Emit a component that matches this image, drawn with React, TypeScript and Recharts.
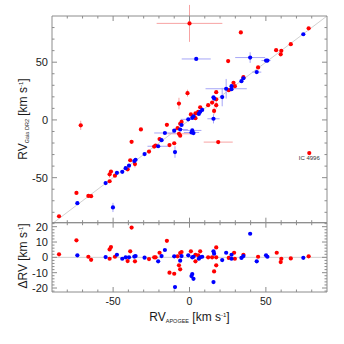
import React from "react";
import {
  ScatterChart,
  Scatter,
  XAxis,
  YAxis,
  ErrorBar,
  ReferenceLine,
  ReferenceDot,
} from "recharts";

// [RV_APOGEE, RV_Gaia, err_APOGEE, err_Gaia]
type Row = [number, number, number, number];

const redTop: Row[] = [
  [0, 83.6, 21.5, 16],
  [33.6, 75.8, 0, 0],
  [78, 79.3, 0, 0],
  [66.3, 65.6, 0, 0],
  [56.7, 60.4, 0, 0],
  [60.1, 59.8, 0, 0],
  [59.7, 56.8, 0, 0],
  [25.3, 51, 0, 1.5],
  [44.9, 45.5, 0, 0],
  [35.3, 37, 0, 0],
  [28.8, 32.2, 0, 0],
  [29.7, 29.2, 0, 0],
  [25.7, 25.8, 0, 0],
  [17.5, 24, 0, 0],
  [17.5, 17.8, 0, 0],
  [14.8, 15, 0, 0],
  [12.2, 12.8, 0, 0],
  [17.5, 12.8, 0, 3],
  [16.1, 7.8, 0, 3],
  [-1.3, 23.2, 0, 3],
  [-6.9, 14.2, 0, 5],
  [7, 11, 0, 0],
  [5.7, 7, 0, 0],
  [3.9, 5.6, 0, 0],
  [3.9, 1.5, 0, 0],
  [0.9, 4.8, 0, 0],
  [-5.2, -1.7, 0, 0],
  [-6.1, -3.3, 0, 0],
  [-7.8, -7.1, 0, 0],
  [-6.9, -12, 7.5, 0],
  [-6.1, -13.6, 0, 0],
  [-10, -20.2, 0, 0],
  [-13.1, -21.8, 0, 0],
  [-14.8, -4.2, 0, 0],
  [-19.6, -16.6, 0, 0],
  [-22.2, -22.2, 0, 0],
  [-23.1, -23.1, 0, 0],
  [-26.5, -27.4, 0, 0],
  [-31.8, -8.2, 0, 0],
  [-37.9, -19, 0, 0],
  [-35.7, -38.2, 0, 3],
  [-38.8, -34.9, 0, 0],
  [-40.5, -42.8, 0, 0],
  [-48.8, -48.3, 0, 0],
  [-52.3, -53.1, 0, 0],
  [-52.3, -47.1, 0, 3],
  [-51.4, -44.7, 0, 0],
  [-64.4, -66, 0, 0],
  [-66.2, -65.8, 0, 0],
  [-74, -63.2, 0, 0],
  [-85.4, -83.4, 0, 0],
  [-71.2, -4.7, 0, 4],
  [18.8, -19.2, 9.5, 0],
  [78.4, -28.7, 0, 0],
];

const blueTop: Row[] = [
  [74.5, 74.2, 0, 0],
  [4.4, 52.8, 9.5, 0],
  [39.7, 54, 9.8, 4.6],
  [50.1, 51.4, 3, 0],
  [51, 51.4, 0, 0],
  [44, 41.4, 3, 0],
  [34, 33.6, 0, 0],
  [35.3, 36.1, 0, 0],
  [27.5, 29.2, 0, 0],
  [27.5, 26.6, 0, 0],
  [24, 27, 13.5, 8.5],
  [15.7, 19.6, 0, 0],
  [16.1, 18.5, 0, 0],
  [21.4, 19.8, 0, 8],
  [15.7, 1, 4, 4],
  [-0.8, 0.5, 5, 0],
  [1.8, 1.8, 0, 0],
  [2.6, 3, 0, 0],
  [6.1, 5.2, 0, 0],
  [7, 7, 0, 0],
  [8.3, 8.7, 0, 0],
  [1.8, -9.1, 6, 0],
  [1.3, -10.9, 5, 0],
  [2.6, -11.4, 0, 0],
  [-5.2, -4.4, 0, 0],
  [-6.1, -8.3, 5, 0],
  [-10, -9.3, 0, 0],
  [-16.1, -11.3, 7, 0],
  [-18.3, -17.5, 0, 0],
  [-20.5, -22.8, 7, 0],
  [-9.5, -27.8, 0, 5],
  [-29.4, -29.6, 0, 0],
  [-35.3, -34.5, 0, 0],
  [-36.1, -35.6, 0, 0],
  [-39.6, -39.6, 0, 0],
  [-41.8, -41.8, 0, 0],
  [-44, -44.9, 0, 0],
  [-47.5, -45.8, 0, 0],
  [-54.9, -54.7, 0, 0],
  [-73.4, -72.1, 0, 0],
  [-50.1, -75.8, 0, 4],
];

// [RV_APOGEE, ΔRV]
const redDelta: [number, number][] = [
  [-85.4, 2], [-74, 11.1], [-66.2, 0.4], [-64.4, -1.6], [-52.3, -0.9],
  [-52.3, 5.2], [-51.4, 6.7], [-48.8, 0.4], [-38.8, 3.9], [-37.9, 19.4],
  [-40.5, -2.4], [-35.7, -2.6], [-26.5, -1.1], [-23.1, 0], [-22.2, 0],
  [-19.6, 3], [-14.8, 10.8], [-13.1, -10], [-10, -10.7], [-7.8, 0.7],
  [-6.9, -5.2], [-6.1, -7.8], [-6.1, 2.8], [-5.2, 3.5], [0.9, 3.9],
  [3.9, 1.7], [3.9, -2.6], [5.7, 1.3], [7, 3.9], [12.2, 0], [14.8, 0],
  [16.1, -9.2], [17.5, -5.2], [17.5, 6.5], [17.5, 0], [25.7, -0.4],
  [29.2, 3], [29.7, -0.9], [35.3, 1.7], [44.9, 0.4], [57.1, 3],
  [59.7, -3.1], [60.1, -0.9], [66.3, -0.7], [78, 0.7],
];

const blueDelta: [number, number][] = [
  [-73.4, 1.3], [-54.9, 0.2], [-47.5, 1.7], [-44, -0.9], [-41.8, 0],
  [-39.6, 0], [-35.3, 0.8], [-36.1, 0.5], [-29.4, -0.2], [-20.5, -2.6],
  [-18.3, 0.8], [-16.1, 4.8], [-10, 0.7], [-9.5, -19.4], [-6.1, -2.2],
  [-5.2, 0.8], [-0.8, 1.3], [1.8, 0], [2.6, 0.4], [1.8, -10.9],
  [1.3, -12.2], [2.6, -14], [6.1, -0.9], [7, 0], [8.3, 0.4], [15.7, 3.9],
  [16.1, 2.4], [15.7, -16.1], [21.4, -1.8], [24, 3], [27.5, 1.7],
  [27.5, -0.9], [34, -0.4], [35.3, 0.8], [39.7, 15.4], [44, -2.6],
  [50.1, 1.3], [51, 0.4], [74.5, -0.3],
];

const rvTicks = [-80, -70, -60, -50, -40, -30, -20, -10, 0, 10, 20, 30, 40, 50, 60, 70, 80];
const rvMajor = [-50, 0, 50];
const deltaTicks = [-22, -20, -18, -16, -14, -12, -10, -8, -6, -4, -2, 0, 2, 4, 6, 8, 10, 12, 14, 16, 18, 20, 22];
const deltaMajor = [-20, -10, 0, 10, 20];

const AXIS_COLOR = "#8c8c8c";
const TEXT_COLOR = "#1a1a1a";
const FONT = "'Liberation Sans', Arial, sans-serif";
const RED = "#ff0000";
const BLUE = "#0000ff";

const toTop = (rows: Row[]) => rows.map(([x, y, ex, ey]) => ({ x, y, ex, ey }));
const toDelta = (rows: [number, number][]) => rows.map(([x, y]) => ({ x, y }));

type Side = "left" | "right" | "top" | "bottom";

// inward ticks, labels outside (IDL style)
function makeTick(side: Side, majors: number[], showText: boolean) {
  return (props: any) => {
    const { x, y, payload } = props;
    const v = payload.value;
    const isMajor = majors.includes(v);
    const len = isMajor ? 5 : 2.5;
    let x2 = x;
    let y2 = y;
    if (side === "left") x2 = x + len;
    if (side === "right") x2 = x - len;
    if (side === "top") y2 = y + len;
    if (side === "bottom") y2 = y - len;
    return (
      <g>
        <line x1={x} y1={y} x2={x2} y2={y2} stroke={AXIS_COLOR} strokeWidth={1} />
        {showText && isMajor && side === "left" && (
          <text x={x - 4} y={y} textAnchor="end" dominantBaseline="central" fontSize={11} fontFamily={FONT} fill={TEXT_COLOR}>
            {v}
          </text>
        )}
        {showText && isMajor && side === "bottom" && (
          <text x={x} y={y + 5.5} dy="0.71em" textAnchor="middle" fontSize={10.5} fontFamily={FONT} fill={TEXT_COLOR}>
            {v}
          </text>
        )}
      </g>
    );
  };
}

const dot = (color: string) => (p: any) => <circle cx={p.cx} cy={p.cy} r={2.1} fill={color} />;

const gaiaTitle = () => (
  <text transform="rotate(-90, 27, 119)" x={27} y={119} textAnchor="middle" fontSize={12} fontFamily={FONT} fill={TEXT_COLOR}>
    RV<tspan fontSize={5.5} dy={2}>Gaia DR2</tspan>
    <tspan fontSize={12} dy={-2}> [km s</tspan>
    <tspan fontSize={6} dy={-4}>-1</tspan>
    <tspan fontSize={12} dy={4}>]</tspan>
  </text>
);

const deltaTitle = () => (
  <text transform="rotate(-90, 27, 256)" x={27} y={256} textAnchor="middle" fontSize={12} fontFamily={FONT} fill={TEXT_COLOR}>
    ΔRV [km s<tspan fontSize={6} dy={-4}>-1</tspan>
    <tspan fontSize={12} dy={4}>]</tspan>
  </text>
);

const apogeeTitle = () => (
  <text x={189.5} y={320.5} textAnchor="middle" fontSize={12} fontFamily={FONT} fill={TEXT_COLOR}>
    RV<tspan fontSize={5.5} dy={2}>APOGEE</tspan>
    <tspan fontSize={12} dy={-2}> [km s</tspan>
    <tspan fontSize={6} dy={-4}>-1</tspan>
    <tspan fontSize={12} dy={4}>]</tspan>
  </text>
);

// axes are 1px thick so that Recharts still draws them; margins make up the difference
function TopPanel() {
  const red = toTop(redTop);
  const blue = toTop(blueTop);
  return (
    <ScatterChart width={344} height={344} margin={{ top: 15, right: 16, bottom: 120.3, left: 51 }}>
      <XAxis xAxisId="b" type="number" dataKey="x" domain={[-90, 90]} ticks={rvTicks} interval={0} allowDataOverflow
        orientation="bottom" height={1} tickSize={0} tickMargin={0} tickLine={false} axisLine={{ stroke: AXIS_COLOR }}
        tick={makeTick("bottom", rvMajor, false)} />
      <XAxis xAxisId="t" type="number" dataKey="x" domain={[-90, 90]} ticks={rvTicks} interval={0} allowDataOverflow
        orientation="top" height={1} tickSize={0} tickMargin={0} tickLine={false} axisLine={{ stroke: AXIS_COLOR }}
        tick={makeTick("top", rvMajor, false)} />
      <YAxis yAxisId="l" type="number" dataKey="y" domain={[-89, 90]} ticks={rvTicks} interval={0} allowDataOverflow
        orientation="left" width={1} tickSize={0} tickMargin={0} tickLine={false} axisLine={{ stroke: AXIS_COLOR }}
        tick={makeTick("left", rvMajor, true)} label={gaiaTitle} />
      <YAxis yAxisId="r" type="number" dataKey="y" domain={[-89, 90]} ticks={rvTicks} interval={0} allowDataOverflow
        orientation="right" width={1} tickSize={0} tickMargin={0} tickLine={false} axisLine={{ stroke: AXIS_COLOR }}
        tick={makeTick("right", rvMajor, false)} />
      <ReferenceLine xAxisId="b" yAxisId="l" segment={[{ x: -89, y: -89 }, { x: 90, y: 90 }]} stroke="#c4c4c4" strokeWidth={0.8} />
      <Scatter xAxisId="b" yAxisId="l" data={red} shape={dot(RED)} isAnimationActive={false}>
        <ErrorBar dataKey="ex" direction="x" width={0} stroke="#f7a3a3" strokeWidth={1} isAnimationActive={false} />
        <ErrorBar dataKey="ey" direction="y" width={0} stroke="#f7a3a3" strokeWidth={1} isAnimationActive={false} />
      </Scatter>
      <Scatter xAxisId="b" yAxisId="l" data={blue} shape={dot(BLUE)} isAnimationActive={false}>
        <ErrorBar dataKey="ex" direction="x" width={0} stroke="#a6a6f7" strokeWidth={1} isAnimationActive={false} />
        <ErrorBar dataKey="ey" direction="y" width={0} stroke="#a6a6f7" strokeWidth={1} isAnimationActive={false} />
      </Scatter>
      <ReferenceDot xAxisId="b" yAxisId="l" x={78.4} y={-28.7} r={0} fill="none" stroke="none"
        label={{ value: "IC 4996", position: "bottom", offset: 3, fontSize: 6, fontFamily: FONT, fill: "#333" }} />
    </ScatterChart>
  );
}

function BottomPanel() {
  const red = toDelta(redDelta);
  const blue = toDelta(blueDelta);
  return (
    <ScatterChart width={344} height={344} margin={{ top: 221.7, right: 16, bottom: 51, left: 51 }}>
      <XAxis xAxisId="b" type="number" dataKey="x" domain={[-90, 90]} ticks={rvTicks} interval={0} allowDataOverflow
        orientation="bottom" height={1} tickSize={0} tickMargin={0} tickLine={false} axisLine={{ stroke: AXIS_COLOR }}
        tick={makeTick("bottom", rvMajor, true)} label={apogeeTitle} />
      <XAxis xAxisId="t" type="number" dataKey="x" domain={[-90, 90]} ticks={rvTicks} interval={0} allowDataOverflow
        orientation="top" height={1} tickSize={0} tickMargin={0} tickLine={false} axisLine={{ stroke: AXIS_COLOR }}
        tick={makeTick("top", rvMajor, false)} />
      <YAxis yAxisId="l" type="number" dataKey="y" domain={[-22.6, 22.6]} ticks={deltaTicks} interval={0} allowDataOverflow
        orientation="left" width={1} tickSize={0} tickMargin={0} tickLine={false} axisLine={{ stroke: AXIS_COLOR }}
        tick={makeTick("left", deltaMajor, true)} label={deltaTitle} />
      <YAxis yAxisId="r" type="number" dataKey="y" domain={[-22.6, 22.6]} ticks={deltaTicks} interval={0} allowDataOverflow
        orientation="right" width={1} tickSize={0} tickMargin={0} tickLine={false} axisLine={{ stroke: AXIS_COLOR }}
        tick={makeTick("right", deltaMajor, false)} />
      <ReferenceLine xAxisId="b" yAxisId="l" y={0} stroke="#c4c4c4" strokeWidth={0.8} />
      <Scatter xAxisId="b" yAxisId="l" data={red} shape={dot(RED)} isAnimationActive={false} />
      <Scatter xAxisId="b" yAxisId="l" data={blue} shape={dot(BLUE)} isAnimationActive={false} />
    </ScatterChart>
  );
}

export default function App() {
  return (
    <div style={{ position: "absolute", left: 0, top: 0, width: 344, height: 344, background: "#fff" }}>
      <div style={{ position: "absolute", left: 0, top: 0 }}>
        <TopPanel />
      </div>
      <div style={{ position: "absolute", left: 0, top: 0 }}>
        <BottomPanel />
      </div>
    </div>
  );
}
